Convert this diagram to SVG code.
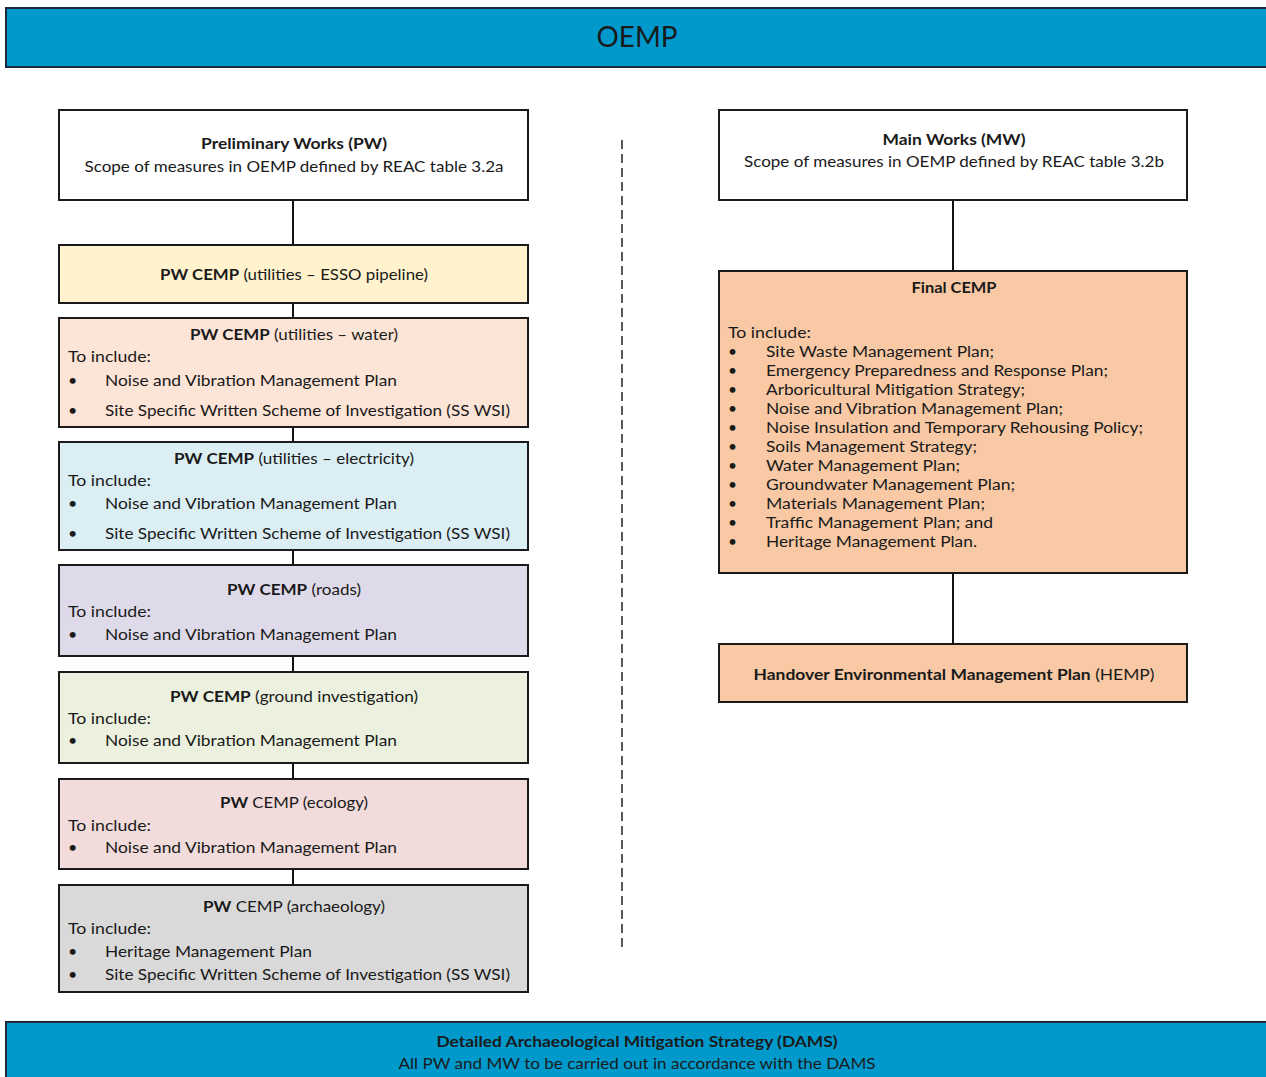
<svg xmlns="http://www.w3.org/2000/svg" width="1266" height="1077" viewBox="0 0 1266 1077">
<style>
text{font-family:Lato,"Open Sans","Liberation Sans",sans-serif;fill:#1a1a1a;font-size:16px}
.c{text-anchor:middle}
.b{font-weight:bold}
.box{stroke:#1a1a1a;stroke-width:2}
.ban{fill:#0099CC;stroke:#1a2a3a;stroke-width:2}
.conn{stroke:#111;stroke-width:2;fill:none}
.f{font-size:15.5px}
</style>
<rect width="1266" height="1077" fill="#fff"/>
<g id="oemp">
<rect class="ban" x="6" y="8" width="1270" height="59"/>
<text class="c" x="637" y="47" style="font-size:28px" textLength="81" lengthAdjust="spacingAndGlyphs">OEMP</text>
</g>
<g id="connectors">
<line class="conn" x1="293" y1="200" x2="293" y2="885"/>
<line class="conn" x1="953" y1="200" x2="953" y2="644"/>
<line x1="622" y1="140" x2="622" y2="948" stroke="#222" stroke-width="1.5" stroke-dasharray="9,5"/>
</g>
<g id="pw">
<rect class="box" x="59" y="110" width="469" height="90" fill="#fff"/>
<text class="c b" x="294" y="149" textLength="186" lengthAdjust="spacingAndGlyphs">Preliminary Works (PW)</text>
<text class="c" x="294" y="172" textLength="419" lengthAdjust="spacingAndGlyphs">Scope of measures in OEMP defined by REAC table 3.2a</text>
</g>
<g id="pw-esso">
<rect class="box" x="59" y="245" width="469" height="58" fill="#FFF2CC"/>
<text class="c" x="294" y="280" textLength="268" lengthAdjust="spacingAndGlyphs"><tspan class="b">PW CEMP</tspan> (utilities – ESSO pipeline)</text>
</g>
<g id="pw-water">
<rect class="box" x="59" y="318" width="469" height="109" fill="#FCE4D6"/>
<text class="c" x="294" y="340" textLength="208" lengthAdjust="spacingAndGlyphs"><tspan class="b">PW CEMP</tspan> (utilities – water)</text>
<text x="68" y="362" textLength="83" lengthAdjust="spacingAndGlyphs">To include:</text>
<text x="68" y="386">•</text><text x="105" y="386" textLength="292" lengthAdjust="spacingAndGlyphs">Noise and Vibration Management Plan</text>
<text x="68" y="416">•</text><text x="105" y="416" textLength="405" lengthAdjust="spacingAndGlyphs">Site Specific Written Scheme of Investigation (SS WSI)</text>
</g>
<g id="pw-electricity">
<rect class="box" x="59" y="442" width="469" height="108" fill="#DAEEF3"/>
<text class="c" x="294" y="464" textLength="240" lengthAdjust="spacingAndGlyphs"><tspan class="b">PW CEMP</tspan> (utilities – electricity)</text>
<text x="68" y="486" textLength="83" lengthAdjust="spacingAndGlyphs">To include:</text>
<text x="68" y="509">•</text><text x="105" y="509" textLength="292" lengthAdjust="spacingAndGlyphs">Noise and Vibration Management Plan</text>
<text x="68" y="539">•</text><text x="105" y="539" textLength="405" lengthAdjust="spacingAndGlyphs">Site Specific Written Scheme of Investigation (SS WSI)</text>
</g>
<g id="pw-roads">
<rect class="box" x="59" y="565" width="469" height="91" fill="#DFDAE9"/>
<text class="c" x="294" y="595" textLength="134" lengthAdjust="spacingAndGlyphs"><tspan class="b">PW CEMP</tspan> (roads)</text>
<text x="68" y="617" textLength="83" lengthAdjust="spacingAndGlyphs">To include:</text>
<text x="68" y="640">•</text><text x="105" y="640" textLength="292" lengthAdjust="spacingAndGlyphs">Noise and Vibration Management Plan</text>
</g>
<g id="pw-ground">
<rect class="box" x="59" y="672" width="469" height="91" fill="#EBF1DE"/>
<text class="c" x="294" y="702" textLength="248" lengthAdjust="spacingAndGlyphs"><tspan class="b">PW CEMP</tspan> (ground investigation)</text>
<text x="68" y="724" textLength="83" lengthAdjust="spacingAndGlyphs">To include:</text>
<text x="68" y="746">•</text><text x="105" y="746" textLength="292" lengthAdjust="spacingAndGlyphs">Noise and Vibration Management Plan</text>
</g>
<g id="pw-ecology">
<rect class="box" x="59" y="779" width="469" height="90" fill="#F2DCDB"/>
<text class="c" x="294" y="808" textLength="148" lengthAdjust="spacingAndGlyphs"><tspan class="b">PW</tspan> CEMP (ecology)</text>
<text x="68" y="831" textLength="83" lengthAdjust="spacingAndGlyphs">To include:</text>
<text x="68" y="853">•</text><text x="105" y="853" textLength="292" lengthAdjust="spacingAndGlyphs">Noise and Vibration Management Plan</text>
</g>
<g id="pw-archaeology">
<rect class="box" x="59" y="885" width="469" height="107" fill="#D9D9D9"/>
<text class="c" x="294" y="912" textLength="182" lengthAdjust="spacingAndGlyphs"><tspan class="b">PW</tspan> CEMP (archaeology)</text>
<text x="68" y="934" textLength="83" lengthAdjust="spacingAndGlyphs">To include:</text>
<text x="68" y="957">•</text><text x="105" y="957" textLength="207" lengthAdjust="spacingAndGlyphs">Heritage Management Plan</text>
<text x="68" y="980">•</text><text x="105" y="980" textLength="405" lengthAdjust="spacingAndGlyphs">Site Specific Written Scheme of Investigation (SS WSI)</text>
</g>
<g id="mw">
<rect class="box" x="719" y="110" width="468" height="90" fill="#fff"/>
<text class="c b" x="954" y="145" textLength="143" lengthAdjust="spacingAndGlyphs">Main Works (MW)</text>
<text class="c" x="954" y="167" textLength="420" lengthAdjust="spacingAndGlyphs">Scope of measures in OEMP defined by REAC table 3.2b</text>
</g>
<g id="final-cemp">
<rect class="box" x="719" y="271" width="468" height="302" fill="#F8C9A4"/>
<text class="c b" x="954" y="293" textLength="85" lengthAdjust="spacingAndGlyphs">Final CEMP</text>
<text x="728" y="338" textLength="83" lengthAdjust="spacingAndGlyphs">To include:</text>
<g class="f">
<text x="728" y="357" class="f">•</text><text class="f" x="766" y="357" textLength="228" lengthAdjust="spacingAndGlyphs">Site Waste Management Plan;</text>
<text x="728" y="376" class="f">•</text><text class="f" x="766" y="376" textLength="342" lengthAdjust="spacingAndGlyphs">Emergency Preparedness and Response Plan;</text>
<text x="728" y="395" class="f">•</text><text class="f" x="766" y="395" textLength="259" lengthAdjust="spacingAndGlyphs">Arboricultural Mitigation Strategy;</text>
<text x="728" y="414" class="f">•</text><text class="f" x="766" y="414" textLength="297" lengthAdjust="spacingAndGlyphs">Noise and Vibration Management Plan;</text>
<text x="728" y="433" class="f">•</text><text class="f" x="766" y="433" textLength="377" lengthAdjust="spacingAndGlyphs">Noise Insulation and Temporary Rehousing Policy;</text>
<text x="728" y="452" class="f">•</text><text class="f" x="766" y="452" textLength="211" lengthAdjust="spacingAndGlyphs">Soils Management Strategy;</text>
<text x="728" y="471" class="f">•</text><text class="f" x="766" y="471" textLength="194" lengthAdjust="spacingAndGlyphs">Water Management Plan;</text>
<text x="728" y="490" class="f">•</text><text class="f" x="766" y="490" textLength="249" lengthAdjust="spacingAndGlyphs">Groundwater Management Plan;</text>
<text x="728" y="509" class="f">•</text><text class="f" x="766" y="509" textLength="219" lengthAdjust="spacingAndGlyphs">Materials Management Plan;</text>
<text x="728" y="528" class="f">•</text><text class="f" x="766" y="528" textLength="227" lengthAdjust="spacingAndGlyphs">Traffic Management Plan; and</text>
<text x="728" y="547" class="f">•</text><text class="f" x="766" y="547" textLength="211" lengthAdjust="spacingAndGlyphs">Heritage Management Plan.</text>
</g>
</g>
<g id="hemp">
<rect class="box" x="719" y="644" width="468" height="58" fill="#F8C9A4"/>
<text class="c" x="954" y="680" textLength="401" lengthAdjust="spacingAndGlyphs"><tspan class="b">Handover Environmental Management Plan</tspan> (HEMP)</text>
</g>
<g id="dams">
<rect class="ban" x="6" y="1022" width="1270" height="70"/>
<text class="c b" x="637" y="1047" style="font-size:15px" textLength="401" lengthAdjust="spacingAndGlyphs">Detailed Archaeological Mitigation Strategy (DAMS)</text>
<text class="c" x="637" y="1069" style="font-size:15px" textLength="477" lengthAdjust="spacingAndGlyphs">All PW and MW to be carried out in accordance with the DAMS</text>
</g>
</svg>
